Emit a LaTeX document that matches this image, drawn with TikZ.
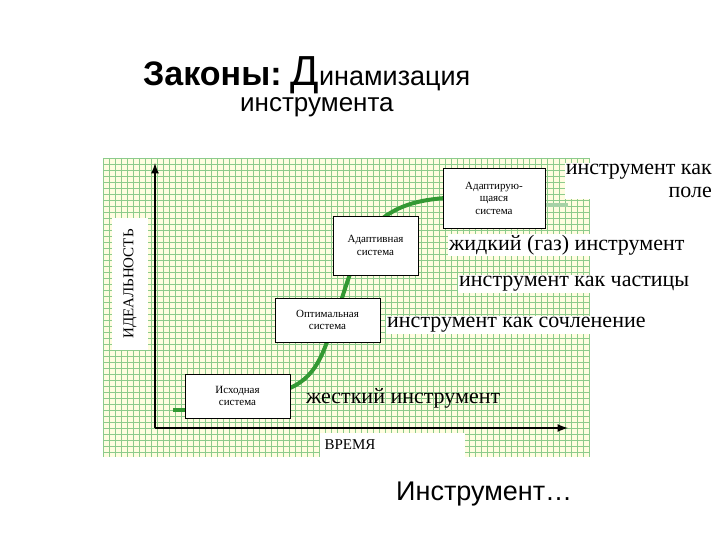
\documentclass[tikz,border=0pt]{standalone}
\usepackage{fontspec}
\setmainfont{Liberation Serif}
\newfontfamily\sans{Liberation Sans}
\begin{document}
\begin{tikzpicture}[x=1pt,y=-1pt,
 sbox/.style={draw=black,fill=white,line width=0.8pt,align=center,font=\fontsize{11}{12.5}\selectfont,inner sep=0pt},
 lbl/.style={fill=white,inner sep=1pt,font=\fontsize{22}{23}\selectfont},
 gl/.style={green!55!black!45,line width=0.4pt},
 ax/.style={line width=2.5pt,-latex}]
\useasboundingbox (0,0) rectangle (720,540);
\fill[yellow!12] (103,158) rectangle (590,457);
\foreach \i in {0,...,81} {\draw[gl] (103+6*\i,158) -- (103+6*\i,457);}
\foreach \j in {0,...,49} {\draw[gl] (103,158+6*\j) -- (590,158+6*\j);}
\node[fill=white,rotate=90,minimum width=132,minimum height=36,font=\fontsize{15}{15}\selectfont] (yl) at (130,284) {ИДЕАЛЬНОСТЬ};
\node[fill=white,minimum width=145,minimum height=25,font=\fontsize{15}{15}\selectfont,text width=135,align=left] (xl) at (392,445) {ВРЕМЯ};
\coordinate (o) at (155,428);
\coordinate (xe) at (568,428);
\coordinate (ye) at (155,163);
\draw[ax] (o) -- (xe);
\draw[ax] (o) -- (ye);
\draw[green!50!black!80,line width=4pt] (173,410) -- (187,410);
\draw[green!50!black!80,line width=4pt] (290,388) .. controls (320,375) and (325,345) .. (335,320) .. controls (345,290) and (355,250) .. (375,225) .. controls (395,205) and (420,200) .. (445,198);
\draw[green!50!black!35,line width=4pt] (545,205) -- (568,205);
\node[sbox,minimum width=105,minimum height=44] (b1) at (237.5,396) {Исходная\\система};
\node[sbox,minimum width=105,minimum height=44] (b2) at (327.5,320) {Оптимальная\\система};
\node[sbox,minimum width=85,minimum height=59] (b3) at (375.5,245.5) {Адаптивная\\система};
\node[sbox,minimum width=102,minimum height=60] (b4) at (494,198) {Адаптирую-\\щаяся\\система};
\node[lbl,align=right,anchor=north east] (t1) at (713,163) {инструмент как\\поле};
\node[lbl,anchor=west] (t2) at (448,245) {жидкий (газ) инструмент};
\node[lbl,anchor=west] (t3) at (458,284) {инструмент как частицы};
\node[lbl,anchor=west] (t4) at (386,325) {инструмент как сочленение};
\node[lbl,anchor=west,fill=none] (t5) at (305,398) {жесткий инструмент};
\node[anchor=base west,inner sep=0,font=\sans] (title) at (143,86) {{\fontsize{34}{36}\selectfont\bfseries Законы:}\hspace{9pt}{\fontsize{42}{42}\selectfont Д}{\fontsize{27}{28}\selectfont инамизация}};
\node[anchor=base west,inner sep=0,font=\sans\fontsize{26}{27}\selectfont] (sub) at (240,112) {инструмента};
\node[anchor=base west,inner sep=0,font=\sans\fontsize{27}{28}\selectfont] (bot) at (396,500) {Инструмент…};
\end{tikzpicture}
\end{document}
